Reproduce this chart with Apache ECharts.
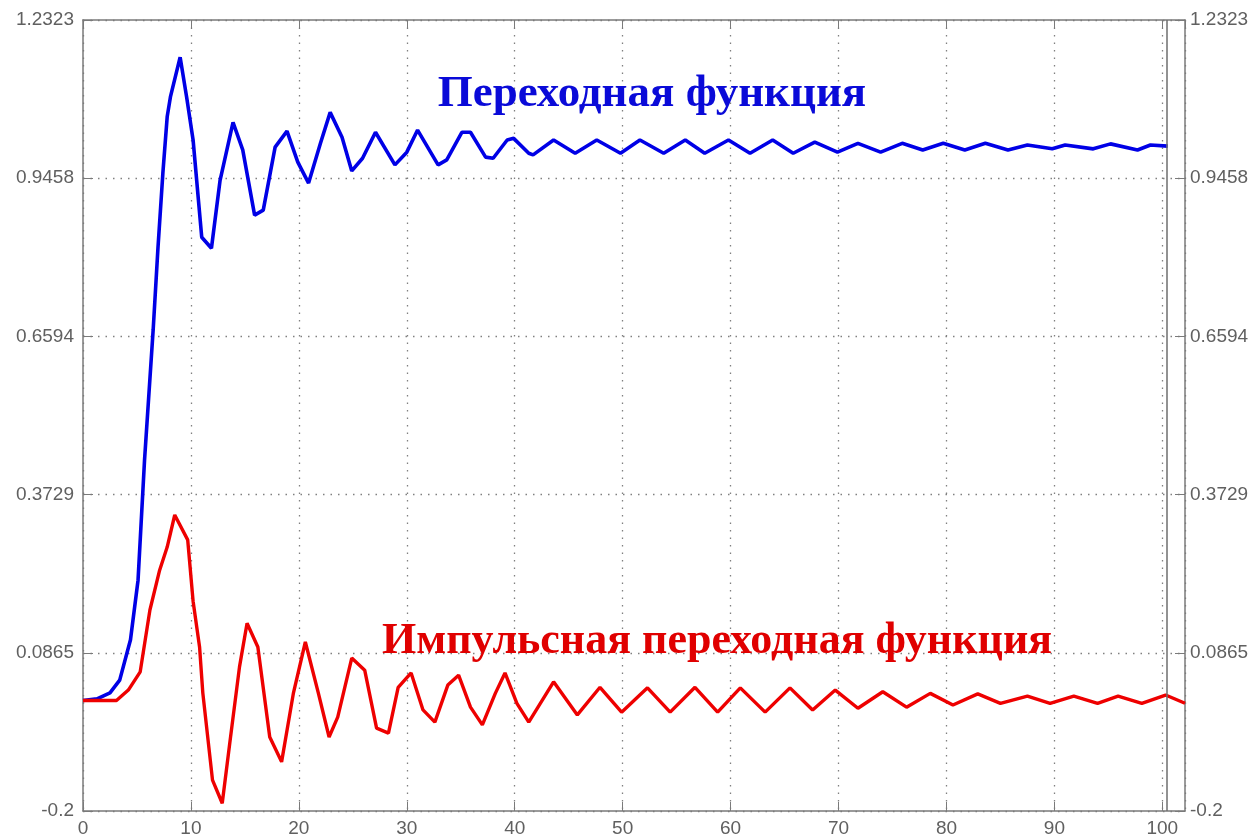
<!DOCTYPE html>
<html>
<head>
<meta charset="utf-8">
<script src="https://cdn.jsdelivr.net/npm/echarts@6/dist/echarts.min.js"></script>
<style>html,body{margin:0;padding:0;background:#fff}#c{width:1260px;height:839px}</style>
</head>
<body>
<div id="c"></div>
<script>
// ---- data ----
var blueT = [0,1.3,2.5,3.4,4.4,5.1,5.7,6.5,6.95,7.4, 7.8,8.1,9.0,9.6,10.2,11.0,11.9,12.7,13.9,14.8, 15.9,16.7,17.8,18.9,19.9,20.9,22.0,22.9,24.0,24.9, 25.9,27.1,28.9,30.0,31.0,32.9,33.7,35.1,35.9,37.3, 38.0,39.3,39.9,41.3,41.7,43.6,45.6,47.6,49.8,51.6, 53.8,55.8,57.6,59.8,61.8,63.9,65.8,67.8,69.9,71.8, 73.9,75.9,77.8,79.7,81.7,83.6,85.7,87.5,89.8,91.0, 93.6,95.2,97.7,98.9,100.5];
var blueY = [0,0.003,0.014,0.037,0.110,0.218,0.435,0.671,0.821,0.955, 1.057,1.093,1.165,1.093,1.015,0.839,0.819,0.942,1.047,0.997, 0.879,0.888,1.002,1.031,0.975,0.937,1.009,1.065,1.020,0.959, 0.982,1.029,0.970,0.993,1.033,0.970,0.979,1.029,1.029,0.984, 0.982,1.015,1.018,0.991,0.988,1.015,0.991,1.015,0.991,1.015, 0.991,1.015,0.991,1.015,0.991,1.015,0.991,1.011,0.993,1.009, 0.993,1.009,0.997,1.009,0.997,1.009,0.997,1.006,0.999,1.006, 0.999,1.008,0.997,1.006,1.004];
var redT = [0,3.1,4.2,5.3,6.2,7.1,7.8,8.5,9.7,10.2, 10.8,11.1,12.0,12.9,13.6,14.5,15.2,16.2,17.3,18.4, 19.5,20.6,21.8,22.8,23.6,24.9,26.1,27.2,28.3,29.2, 30.4,31.5,32.6,33.8,34.8,35.9,37.0,38.2,39.1,40.2, 41.3,43.6,45.8,47.9,49.9,52.3,54.4,56.7,58.8,60.9, 63.2,65.5,67.6,69.7,71.8,74.1,76.3,78.5,80.6,82.9, 85.0,87.5,89.6,91.8,94.0,95.9,98.1,100.3,102.1];
var redY = [0,0,0.019,0.052,0.164,0.236,0.278,0.336,0.291,0.180, 0.097,0.014,-0.144,-0.186,-0.077,0.061,0.140,0.097,-0.066,-0.111, 0.014,0.106,0.014,-0.066,-0.030,0.077,0.055,-0.050,-0.059,0.024, 0.050,-0.017,-0.039,0.028,0.046,-0.012,-0.044,0.013,0.050,-0.005, -0.039,0.034,-0.026,0.024,-0.021,0.023,-0.021,0.024,-0.021,0.023, -0.021,0.023,-0.017,0.019,-0.014,0.016,-0.012,0.013,-0.008,0.012, -0.005,0.008,-0.005,0.008,-0.005,0.008,-0.005,0.010,-0.005];
var yTickLabels = ['-0.2','0.0865','0.3729','0.6594','0.9458','1.2323'];
var xTickLabels = ['0','10','20','30','40','50','60','70','80','90','100'];
var blueTitle = 'Переходная функция';
var redTitle = 'Импульсная переходная функция';
var vLineX = [100.4];

// ---- axis set-up ----
var yMin = -0.2, yMax = 1.2323;
var ySpan = yMax - yMin;
var yStep = ySpan / (yTickLabels.length - 1);
function pairs(t, y) { return t.map(function (v, i) { return [v, y[i] - yMin]; }); }
function yLab(v) { var k = Math.round(v / yStep); return (Math.abs(v - k * yStep) < 1e-6 && yTickLabels[k] !== undefined) ? yTickLabels[k] : ''; }
function xLab(v) { var k = Math.round(v / 10); return (Math.abs(v - k * 10) < 1e-6 && xTickLabels[k] !== undefined) ? xTickLabels[k] : ''; }

var axisCol = '#7a7a7a';
var labStyle = { color: '#606060', fontSize: 19, fontFamily: 'Liberation Sans, Arial, sans-serif' };
var gridLine = { show: true, lineStyle: { color: '#808080', width: 1.3, type: [1.5, 6] } };

var chart = echarts.init(document.getElementById('c'), null, { renderer: 'canvas' });
chart.setOption({
  animation: false,
  backgroundColor: '#fff',
  grid: { left: 83, right: 75, top: 20, bottom: 28, containLabel: false },
  xAxis: [{
    type: 'value', position: 'bottom', min: 0, max: 102.1, interval: 10,
    axisLine: { show: true, onZero: false, lineStyle: { color: axisCol, width: 1.5 } },
    axisTick: { show: true, inside: true, length: 9, lineStyle: { color: axisCol } },
    axisLabel: Object.assign({ margin: 8, formatter: xLab, showMaxLabel: false }, labStyle),
    splitLine: gridLine
  }, {
    type: 'value', position: 'top', min: 0, max: 102.1, interval: 10,
    axisLine: { show: true, onZero: false, lineStyle: { color: axisCol, width: 1.5 } },
    axisTick: { show: true, inside: true, length: 9, lineStyle: { color: axisCol } },
    axisLabel: { show: false }, splitLine: { show: false }
  }],
  yAxis: [{
    type: 'value', position: 'left', min: 0, max: ySpan, interval: yStep,
    axisLine: { show: true, onZero: false, lineStyle: { color: axisCol, width: 1.5 } },
    axisTick: { show: true, inside: true, length: 10, lineStyle: { color: axisCol } },
    axisLabel: Object.assign({ margin: 9, formatter: yLab }, labStyle),
    splitLine: gridLine
  }, {
    type: 'value', position: 'right', min: 0, max: ySpan, interval: yStep,
    axisLine: { show: true, onZero: false, lineStyle: { color: axisCol, width: 1.5 } },
    axisTick: { show: true, inside: true, length: 10, lineStyle: { color: axisCol } },
    axisLabel: Object.assign({ margin: 5, formatter: yLab }, labStyle),
    splitLine: { show: false }
  }],
  series: [{
    type: 'line', name: blueTitle, data: pairs(blueT, blueY), showSymbol: false, symbol: 'none',
    lineStyle: { color: '#0000e6', width: 3.6 }, z: 3,
    markLine: { silent: true, symbol: 'none', label: { show: false },
      lineStyle: { color: '#6e6e6e', width: 1.5, type: 'solid' },
      data: vLineX.map(function (v) { return { xAxis: v }; }) }
  }, {
    type: 'line', name: redTitle, data: pairs(redT, redY), showSymbol: false, symbol: 'none',
    lineStyle: { color: '#ee0000', width: 3.4 }, z: 4
  }],
  graphic: [{
    type: 'text', z: 10,
    style: { text: blueTitle, x: 652, y: 94, align: 'center', verticalAlign: 'middle',
      font: 'bold 45px "Liberation Serif", "Times New Roman", serif', fill: '#0a0ad8' }
  }, {
    type: 'text', z: 10,
    style: { text: redTitle, x: 717, y: 642, align: 'center', verticalAlign: 'middle',
      font: 'bold 44px "Liberation Serif", "Times New Roman", serif', fill: '#e00000' }
  }]
});
</script>
</body>
</html>
